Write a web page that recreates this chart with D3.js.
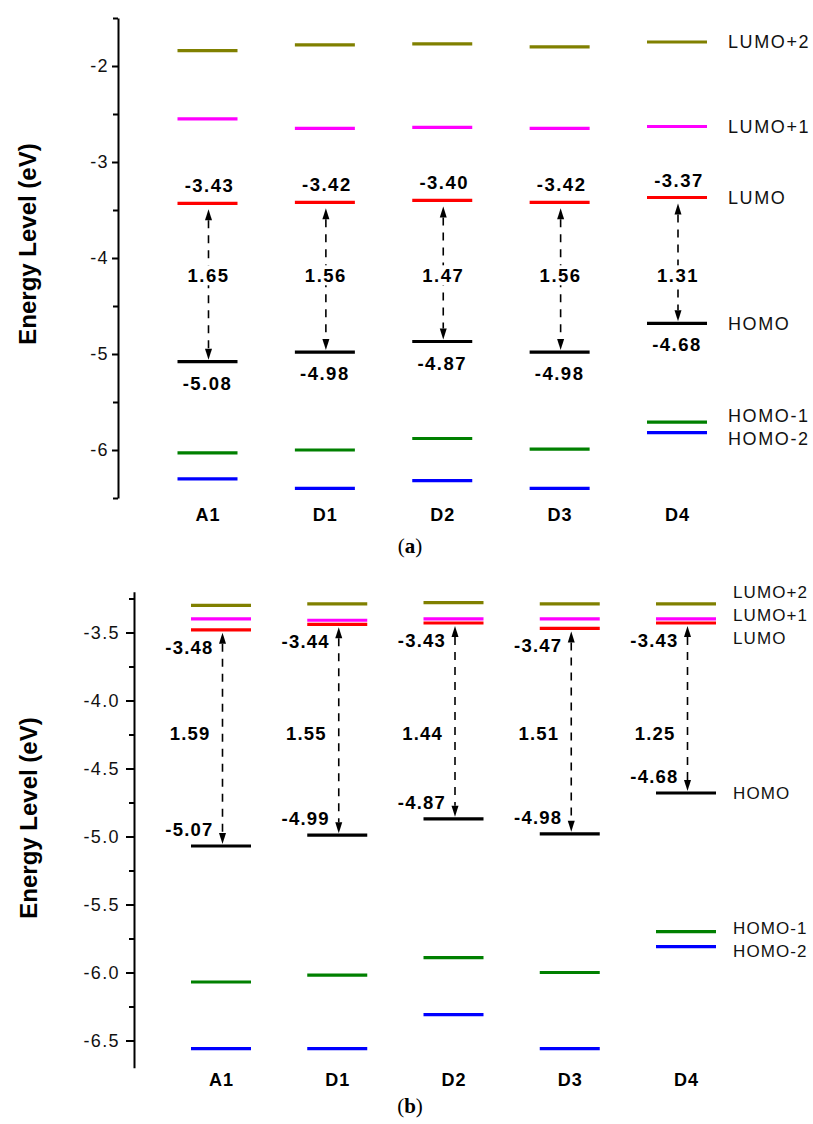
<!DOCTYPE html>
<html>
<head>
<meta charset="utf-8">
<script src="https://cdn.jsdelivr.net/npm/d3@7"></script>
<style>
  html, body { margin: 0; padding: 0; background: #ffffff; }
  svg { display: block; }
</style>
</head>
<body>
<svg id="chart" width="813" height="1124"></svg>
<script>
// Molecules and orbital names
const categories = ["A1", "D1", "D2", "D3", "D4"];
const orbitalNames = ["LUMO+2", "LUMO+1", "LUMO", "HOMO", "HOMO-1", "HOMO-2"];
const orbitalColors = ["#808000", "#ff00ff", "#ff0000", "#000000", "#008000", "#0000ff"];

// Panel (a) energies, eV
const lumo2A = [-1.84, -1.78, -1.77, -1.80, -1.75];
const lumo1A = [-2.55, -2.65, -2.64, -2.65, -2.63];
const lumoA  = [-3.43, -3.42, -3.40, -3.42, -3.37];
const homoA  = [-5.08, -4.98, -4.87, -4.98, -4.68];
const homo1A = [-6.03, -6.00, -5.88, -5.99, -5.71];
const homo2A = [-6.30, -6.40, -6.32, -6.40, -5.82];
const gapA   = [1.65, 1.56, 1.47, 1.56, 1.31];
const majorTicksA = [-6, -5, -4, -3, -2];
const minorTicksA = [-6.5, -5.5, -4.5, -3.5, -2.5, -1.5];

// Panel (b) energies, eV
const lumo2B = [-3.30, -3.29, -3.28, -3.29, -3.29];
const lumo1B = [-3.40, -3.41, -3.40, -3.40, -3.40];
const lumoB  = [-3.48, -3.44, -3.43, -3.47, -3.43];
const homoB  = [-5.07, -4.99, -4.87, -4.98, -4.68];
const homo1B = [-6.07, -6.02, -5.89, -6.00, -5.70];
const homo2B = [-6.56, -6.56, -6.31, -6.56, -5.81];
const gapB   = [1.59, 1.55, 1.44, 1.51, 1.25];
const majorTicksB = [-6.5, -6.0, -5.5, -5.0, -4.5, -4.0, -3.5];
const minorTicksB = [-6.25, -5.75, -5.25, -4.75, -4.25, -3.75, -3.25];

const locale = d3.formatLocale({decimal: ".", thousands: ",", grouping: [3], currency: ["", ""], minus: "-"});
const fmt2 = locale.format(".2f");

const SANS = "'Liberation Sans', Arial, sans-serif";
const svg = d3.select("#chart");
svg.append("rect").attr("width", 813).attr("height", 1124).attr("fill", "#ffffff");

// spread label positions so neighbouring labels do not overlap
function spread(ys, gap) {
  const idx = ys.map((y, i) => i).sort((a, b) => ys[a] - ys[b]);
  const out = ys.slice();
  for (let it = 0; it < 200; it++) {
    for (let k = 0; k < idx.length - 1; k++) {
      const a = idx[k], b = idx[k + 1];
      const d = out[b] - out[a];
      if (d < gap) {
        const m = (gap - d) / 2;
        out[a] -= m; out[b] += m;
      }
    }
  }
  return out;
}

function arrowHead(g, x, tipY, dir, len, half) {
  // dir = -1 pointing up, +1 pointing down
  const baseY = tipY - dir * len;
  g.append("path")
    .attr("d", `M${x},${tipY}L${x - half},${baseY}L${x + half},${baseY}Z`)
    .attr("fill", "#000");
}

function drawPanel(o) {
  const g = svg.append("g");
  const levels = [o.lumo2, o.lumo1, o.lumo, o.homo, o.homo1, o.homo2];
  const x = d3.scalePoint().domain(categories).range(o.xRange);
  const y = d3.scaleLinear().domain(o.yDomain).range(o.yRange);
  const halfW = 30;

  // y axis
  const axisG = g.append("g").attr("transform", `translate(${o.axisX},0)`)
    .call(d3.axisLeft(y).tickValues(o.major).tickSize(o.majorLen).tickSizeOuter(0)
      .tickPadding(o.tickPad).tickFormat(o.tickFmt));
  axisG.select(".domain").attr("stroke-width", 2);
  axisG.selectAll(".tick line").attr("stroke-width", 2);
  axisG.selectAll(".tick text")
    .attr("font-family", SANS).attr("font-size", 18).attr("fill", "#111")
    .attr("letter-spacing", "1.4px");
  const minorG = g.append("g").attr("transform", `translate(${o.axisX},0)`)
    .call(d3.axisLeft(y).tickValues(o.minor).tickSize(o.minorLen).tickSizeOuter(0).tickFormat(""));
  minorG.select(".domain").remove();
  minorG.selectAll(".tick line").attr("stroke-width", 2);

  // axis title
  g.append("text")
    .attr("transform", `translate(${o.titleX},${o.titleY}) rotate(-90)`)
    .attr("text-anchor", "middle")
    .attr("font-family", SANS).attr("font-weight", "bold").attr("font-size", 24)
    .attr("fill", "#000")
    .text("Energy Level (eV)");

  // category labels
  g.selectAll(".cat").data(categories).join("text")
    .attr("x", d => x(d) + 0.5)
    .attr("y", o.catY)
    .attr("text-anchor", "middle")
    .attr("font-family", SANS).attr("font-weight", "bold").attr("font-size", 18)
    .attr("letter-spacing", "1px")
    .text(d => d);

  // gap arrows
  categories.forEach((c, i) => {
    const cx = x(c) + o.arrowDx;
    const yTop = y(o.lumo[i]) + o.topGap;
    const yBot = y(o.homo[i]) - 2;
    const len = 11, half = 3.5;
    g.append("line")
      .attr("x1", cx).attr("x2", cx)
      .attr("y1", yTop + len).attr("y2", yBot - len)
      .attr("stroke", "#000").attr("stroke-width", 1.6)
      .attr("stroke-dasharray", "8,7");
    arrowHead(g, cx, yTop, -1, len, half);
    arrowHead(g, cx, yBot, 1, len, half);
  });

  // energy level lines
  levels.forEach((vals, li) => {
    g.selectAll(null).data(categories).join("line")
      .attr("x1", d => x(d) - halfW).attr("x2", d => x(d) + halfW)
      .attr("y1", (d, j) => y(vals[j])).attr("y2", (d, j) => y(vals[j]))
      .attr("stroke", orbitalColors[li]).attr("stroke-width", 3.2);
  });

  o.labels(g, x, y);

  // orbital names next to the last molecule
  const last = categories.length - 1;
  const ys = spread(levels.map(v => y(v[last])), 23);
  orbitalNames.forEach((name, li) => {
    g.append("text")
      .attr("x", x(categories[last]) + halfW + o.nameDx)
      .attr("y", ys[li]).attr("dy", "0.36em")
      .attr("font-family", SANS).attr("font-size", o.nameSize).attr("fill", "#111")
      .attr("letter-spacing", o.nameSpacing)
      .text(name);
  });

  // caption
  const cap = g.append("text").attr("x", 410).attr("y", o.capY)
    .attr("text-anchor", "middle")
    .attr("font-family", "'Liberation Serif', 'DejaVu Serif', serif").attr("font-size", 21);
  cap.append("tspan").text("(");
  cap.append("tspan").attr("font-weight", "bold").text(o.caption);
  cap.append("tspan").text(")");
}

// Panel (a)
drawPanel({
  lumo2: lumo2A, lumo1: lumo1A, lumo: lumoA, homo: homoA, homo1: homo1A, homo2: homo2A,
  xRange: [207.5, 677], yDomain: [-6.5, -1.5], yRange: [498, 18],
  axisX: 118, major: majorTicksA, minor: minorTicksA, majorLen: 6, minorLen: 5, tickPad: 3,
  tickFmt: locale.format("d"),
  titleX: 36, titleY: 244, catY: 521, arrowDx: 1, topGap: 6,
  nameDx: 21, nameSize: 18, nameSpacing: "1.6px",
  capY: 553, caption: "a",
  labels: (g, x, y) => {
    const vs = { "font-family": SANS, "font-weight": "bold", "font-size": 18.5, "letter-spacing": "1.5px" };
    categories.forEach((c, i) => {
      const t1 = g.append("text").attr("x", x(c) + 2).attr("y", y(lumoA[i]) - 11)
        .attr("text-anchor", "middle").text(fmt2(lumoA[i]));
      const t2 = g.append("text").attr("x", x(c) + 0).attr("y", y(homoA[i]) + 28)
        .attr("text-anchor", "middle").text(fmt2(homoA[i]));
      // gap value sits on the arrow, masking the dashes behind it
      const gy = y(-4.18);
      g.append("rect").attr("x", x(c) - 23).attr("y", gy - 10).attr("width", 48).attr("height", 20)
        .attr("fill", "#ffffff");
      const t3 = g.append("text").attr("x", x(c) + 1).attr("y", gy).attr("dy", "0.36em")
        .attr("text-anchor", "middle").text(fmt2(gapA[i]));
      [t1, t2, t3].forEach(t => Object.entries(vs).forEach(([k, v]) => t.attr(k, v)));
    });
  }
});

// Panel (b)
drawPanel({
  lumo2: lumo2B, lumo1: lumo1B, lumo: lumoB, homo: homoB, homo1: homo1B, homo2: homo2B,
  xRange: [221, 686], yDomain: [-6.7, -3.2], yRange: [1067.7, 591.7],
  axisX: 134, major: majorTicksB, minor: minorTicksB, majorLen: 8, minorLen: 5, tickPad: 6,
  tickFmt: locale.format(".1f"),
  titleX: 37, titleY: 818, catY: 1086, arrowDx: 1.5, topGap: 3,
  nameDx: 17, nameSize: 17, nameSpacing: "1.1px",
  capY: 1113, caption: "b",
  labels: (g, x, y) => {
    const vs = { "font-family": SANS, "font-weight": "bold", "font-size": 18.5, "letter-spacing": "1.2px" };
    categories.forEach((c, i) => {
      const ax = x(c) + 1.5;
      const t1 = g.append("text").attr("x", ax - 9).attr("y", y(lumoB[i]) + 24)
        .attr("text-anchor", "end").text(fmt2(lumoB[i]));
      const t2 = g.append("text").attr("x", ax - 9).attr("y", y(homoB[i]) - 10)
        .attr("text-anchor", "end").text(fmt2(homoB[i]));
      const t3 = g.append("text").attr("x", ax - 12).attr("y", y(-4.24)).attr("dy", "0.36em")
        .attr("text-anchor", "end").text(fmt2(gapB[i]));
      [t1, t2, t3].forEach(t => Object.entries(vs).forEach(([k, v]) => t.attr(k, v)));
    });
  }
});
</script>
</body>
</html>
